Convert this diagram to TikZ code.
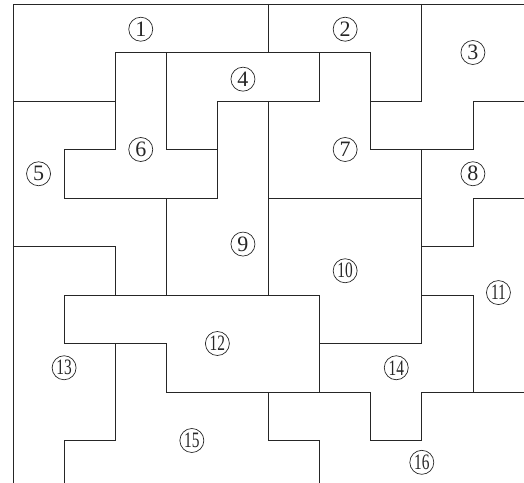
\documentclass[tikz,border=0pt]{standalone}
\usepackage{fontspec}
\setmainfont{Liberation Serif}
\usetikzlibrary{positioning}

\tikzset{
    part/.style={line width=0.8pt, black!85},
    num/.style={circle, draw, black!85, line width=0.7pt, inner sep=0pt,
        minimum size=24pt, font=\fontsize{22}{22}\selectfont},
}
\newcommand{\twodig}[1]{\scalebox{0.7}[1]{#1}}

\begin{document}
\begin{tikzpicture}[x=51.1pt, y=-48.5pt]
\useasboundingbox (-0.2544, -0.0825) rectangle (10, 9.876);
\clip (-0.2544, -0.0825) rectangle (10, 9.876);

% Outer frame (top and left only)
\draw[part] (0,10) -- (0,0) -- (10,0);

% Cuts between the pieces
\draw[part] (0,2) -- (2,2) -- (2,1) -- (7,1) -- (7,3) -- (9,3) -- (9,2) -- (10,2);
\draw[part] (5,0) -- (5,1);
\draw[part] (8,0) -- (8,2) -- (7,2);
\draw[part] (2,2) -- (2,3) -- (1,3) -- (1,4) -- (4,4) -- (4,2) -- (6,2) -- (6,1);
\draw[part] (3,1) -- (3,3) -- (4,3);
\draw[part] (5,2) -- (5,6);
\draw[part] (3,4) -- (3,6);
\draw[part] (0,5) -- (2,5) -- (2,6);
\draw[part] (6,6) -- (1,6) -- (1,7) -- (3,7) -- (3,8) -- (7,8);
\draw[part] (2,7) -- (2,9) -- (1,9) -- (1,10);
\draw[part] (5,4) -- (8,4);
\draw[part] (8,3) -- (8,7) -- (6,7);
\draw[part] (6,6) -- (6,8);
\draw[part] (8,5) -- (9,5) -- (9,4) -- (10,4);
\draw[part] (8,6) -- (9,6) -- (9,8) -- (10,8);
\draw[part] (8,8) -- (9,8);
\draw[part] (5,8) -- (5,9) -- (6,9) -- (6,10);
\draw[part] (7,8) -- (7,9) -- (8,9) -- (8,8);

% Piece numbers
\node[num] (r1) at (2.5, 0.52) {1};
\node[num] (r2) at (6.5, 0.52) {2};
\node[num] (r3) at (9, 1) {3};
\node[num] (r4) at (4.5, 1.55) {4};
\node[num] (r5) at (0.5, 3.5) {5};
\node[num] (r6) at (2.5, 3) {6};
\node[num] (r7) at (6.5, 3) {7};
\node[num] (r8) at (9, 3.5) {8};
\node[num] (r9) at (4.5, 4.95) {9};
\node[num] (r10) at (6.5, 5.5) {\twodig{10}};
\node[num] (r11) at (9.5, 5.95) {\twodig{11}};
\node[num] (r12) at (4, 7) {\twodig{12}};
\node[num] (r13) at (1, 7.5) {\twodig{13}};
\node[num] (r14) at (7.5, 7.5) {\twodig{14}};
\node[num] (r15) at (3.5, 9) {\twodig{15}};
\node[num] (r16) at (8, 9.45) {\twodig{16}};

\end{tikzpicture}
\end{document}
